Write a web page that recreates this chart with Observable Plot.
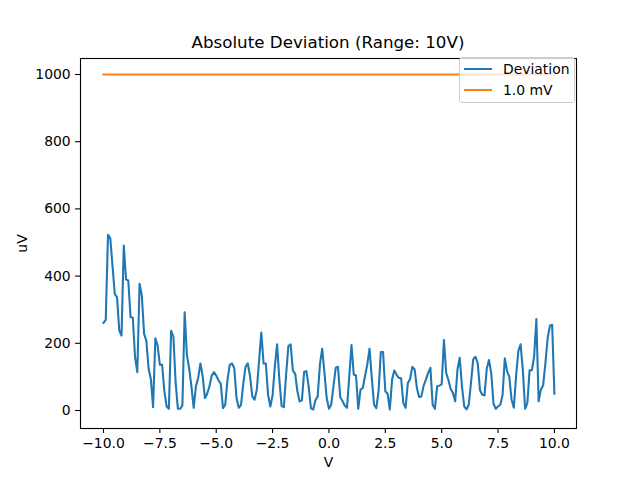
<!DOCTYPE html>
<html>
<head>
<meta charset="utf-8">
<script src="https://cdn.jsdelivr.net/npm/d3@7"></script>
<script src="https://cdn.jsdelivr.net/npm/@observablehq/plot@0.6"></script>
<style>
  html, body { margin: 0; padding: 0; background: white; }
  body { width: 640px; height: 480px; position: relative; font-family: "DejaVu Sans", sans-serif; overflow: hidden; }
  #title { height: 53px; box-sizing: border-box; padding-top: 32px; line-height: 20px; margin-left: 80px; width: 496px; text-align: center; font-size: 16.7px; color: black; }
  #chart svg { display: block; }
  #legend { position: absolute; left: 459px; top: 57px; width: 116px; height: 46px; box-sizing: border-box;
            background: rgba(255,255,255,0.8); border: 1px solid #cccccc; border-radius: 3px; font-size: 13.9px; }
  .entry { position: absolute; left: 0; height: 20px; line-height: 20px; }
  .swatch { position: absolute; left: 4px; top: 9px; width: 28px; height: 2px; }
  .lab { position: absolute; left: 43px; top: 0; white-space: nowrap; }
</style>
</head>
<body>
<div id="title">Absolute Deviation (Range: 10V)</div>
<div id="chart"></div>
<div id="legend"></div>
<script>
// ---- data ----
const voltStart = -10;
const voltStep = 0.1;
const deviation = [
  261, 270, 523, 513, 430, 347, 337, 238, 223, 491,
  390, 387, 278, 276, 159, 114, 377, 342, 228, 208,
  124, 94, 10, 215, 193, 136, 136, 57, 12, 5,
  237, 220, 82, 5, 5, 15, 292, 165, 125, 72,
  8, 72, 97, 140, 102, 37, 50, 72, 104, 114,
  104, 90, 80, 7, 17, 92, 136, 140, 126, 37,
  8, 17, 80, 130, 140, 102, 42, 32, 62, 147,
  232, 140, 140, 47, 12, 45, 132, 197, 92, 14,
  10, 107, 192, 197, 119, 110, 57, 27, 30, 115,
  117, 72, 7, 3, 30, 42, 137, 184, 112, 37,
  5, 17, 72, 127, 130, 40, 28, 15, 8, 100,
  195, 107, 104, 5, 62, 67, 102, 137, 184, 97,
  17, 7, 57, 174, 174, 57, 50, 3, 92, 119,
  106, 97, 96, 22, 8, 82, 94, 130, 122, 67,
  40, 42, 74, 92, 112, 127, 17, 5, 72, 74,
  78, 210, 112, 90, 64, 52, 27, 122, 157, 72,
  12, 3, 17, 82, 152, 160, 140, 60, 47, 45,
  125, 150, 110, 20, 5, 12, 17, 45, 155, 117,
  100, 32, 8, 102, 177, 197, 120, 5, 22, 120,
  120, 160, 272, 27, 62, 75, 140, 215, 252, 255,
  50
];
const limitLevel = 1000;
const limitRange = [-10, 10];
const seriesNames = ["Deviation", "1.0 mV"];
const seriesColors = ["#1f77b4", "#ff7f0e"];
const xTicks = [-10, -7.5, -5, -2.5, 0, 2.5, 5, 7.5, 10];
const yTicks = [0, 200, 400, 600, 800, 1000];
const xLabel = "V";
const yLabel = "uV";

// ---- tables ----
const devRows = deviation.map((d, i) => ({v: +(voltStart + i * voltStep).toFixed(1), uv: d, s: seriesNames[0]}));
const limitRows = limitRange.map(v => ({v, uv: limitLevel, s: seriesNames[1]}));

const fmtX = d => d.toFixed(1).replace("-", "\u2212");

const chart = Plot.plot({
  width: 640,
  height: 427,
  marginTop: 5,
  marginBottom: 52,
  marginLeft: 80,
  marginRight: 64,
  style: {fontFamily: "DejaVu Sans", fontSize: "13.9px", color: "black", background: "white", overflow: "visible"},
  x: {domain: [-11.02, 10.98]},
  y: {domain: [-53.6, 1047.6]},
  marks: [
    Plot.line(devRows, {x: "v", y: "uv", stroke: seriesColors[0], strokeWidth: 2.08, strokeLinejoin: "round", strokeLinecap: "square"}),
    Plot.line(limitRows, {x: "v", y: "uv", stroke: seriesColors[1], strokeWidth: 2.08, strokeLinecap: "square"}),
    Plot.frame({stroke: "black", strokeWidth: 1.1}),
    Plot.axisX({ticks: xTicks, tickFormat: fmtX, tickSize: 4.9, tickPadding: 4.9, strokeWidth: 1.1, label: null, fontSize: "13.9px"}),
    Plot.axisY({ticks: yTicks, tickFormat: d => String(d), tickSize: 4.9, tickPadding: 4.9, strokeWidth: 1.1, label: null, fontSize: "13.9px"}),
    Plot.text([xLabel], {text: d => d, frameAnchor: "bottom", dy: 34, lineAnchor: "middle", fontSize: "13.9px", fill: "black"}),
    Plot.text([yLabel], {text: d => d, frameAnchor: "left", dx: -58, rotate: -90, textAnchor: "middle", lineAnchor: "middle", fontSize: "13.9px", fill: "black"})
  ]
});
document.getElementById("chart").appendChild(chart);

// ---- legend ----
const legend = document.getElementById("legend");
seriesNames.forEach((name, i) => {
  const e = document.createElement("div");
  e.className = "entry";
  e.style.top = (1 + i * 21) + "px";
  e.style.width = "100%";
  const sw = document.createElement("div");
  sw.className = "swatch";
  sw.style.background = seriesColors[i];
  const lb = document.createElement("div");
  lb.className = "lab";
  lb.textContent = name;
  e.appendChild(sw); e.appendChild(lb);
  legend.appendChild(e);
});
</script>
</body>
</html>
